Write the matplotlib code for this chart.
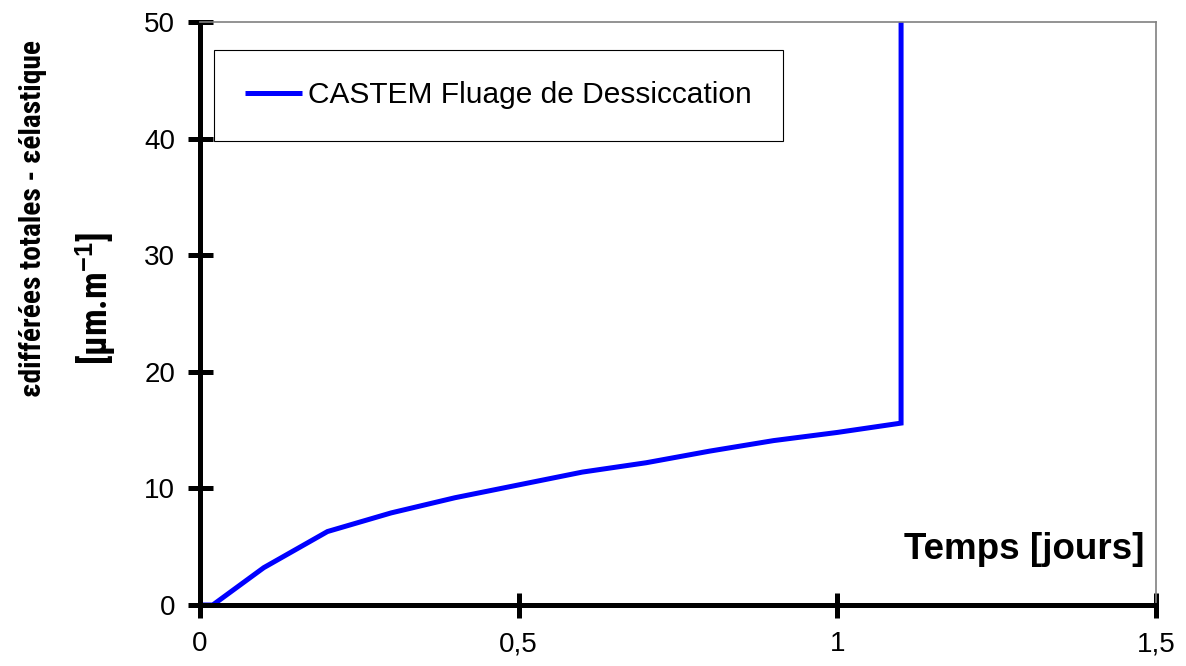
import numpy as np
import matplotlib
matplotlib.use("Agg")
import matplotlib.pyplot as plt
from matplotlib import font_manager
from matplotlib.ticker import FuncFormatter

plt.rcParams['font.family'] = ['Liberation Sans', 'DejaVu Sans']
plt.rcParams['mathtext.fontset'] = 'custom'
plt.rcParams['mathtext.rm'] = 'Liberation Sans'
plt.rcParams['mathtext.bf'] = 'Liberation Sans:bold'

# Données
temps = [0.0, 0.02, 0.1, 0.2, 0.3, 0.4, 0.5, 0.6, 0.7, 0.8, 0.9, 1.0, 1.1, 1.1]
deformation = [0.0, 0.0, 3.2, 6.3, 7.9, 9.2, 10.3, 11.4, 12.2, 13.2, 14.1, 14.8, 15.6, 80.0]
nom_serie = "CASTEM Fluage de Dessiccation"
x_ticks = [0, 0.5, 1, 1.5]
y_ticks = [0, 10, 20, 30, 40, 50]

# police étroite pour le titre de l'axe y si elle existe
noms = set(f.name for f in font_manager.fontManager.ttflist)
police_etroite = 'Liberation Sans'
for nom in ['Liberation Sans Narrow', 'DejaVu Sans Condensed', 'Roboto Condensed', 'Open Sans Condensed']:
    if nom in noms:
        police_etroite = nom
        break

fig = plt.figure(figsize=(11.86, 6.66), dpi=100)
ax = fig.add_axes([200 / 1186, 61 / 666, 956 / 1186, 583 / 666])

ax.plot(temps, deformation, color='#0000ff', lw=3.6, label=nom_serie,
        solid_joinstyle='miter', solid_capstyle='butt')

ax.set_xlim(0, 1.5)
ax.set_ylim(0, 50)
ax.set_xticks(x_ticks)
ax.set_yticks(y_ticks)
ax.xaxis.set_major_formatter(FuncFormatter(lambda v, p: ('%g' % v).replace('.', ',')))

for s in ['left', 'bottom']:
    ax.spines[s].set_linewidth(3.6)
    ax.spines[s].set_color('black')
for s in ['top', 'right']:
    ax.spines[s].set_linewidth(1.2)
    ax.spines[s].set_color('#808080')

ax.tick_params(direction='inout', length=18, width=3.6, labelsize=20, color='black')
ax.tick_params(axis='x', pad=10)
ax.tick_params(axis='y', pad=9)

ax.text(0.988, 0.096, 'Temps [jours]', transform=ax.transAxes, ha='right', va='center',
        fontsize=26.5, fontweight='bold')

lab1 = fig.text(33 / 1186, 1 - 218 / 666, u'εdifférées totales - εélastique', family=police_etroite,
                rotation=90, ha='center', va='center', fontsize=26, fontweight='bold')
lab2 = fig.text(96 / 1186, 1 - 299 / 666, u'[µm.m$^{\\mathbf{-1}}$]', family=police_etroite,
                rotation=90, ha='center', va='center', fontsize=26, fontweight='bold')

# ajuster la taille pour retrouver la longueur du titre de l'axe y
renderer = fig.canvas.get_renderer()
for lab, longueur in [(lab1, 357), (lab2, 133)]:
    h = lab.get_window_extent(renderer).height
    lab.set_fontsize(lab.get_fontsize() * longueur / h)

leg = ax.legend(loc='upper left', bbox_to_anchor=(14 / 956, 1 - 28 / 583), fontsize=21.5,
                fancybox=False, edgecolor='black', handlelength=1.9, borderpad=1.05,
                handletextpad=0.2, borderaxespad=0)
leg.get_frame().set_linewidth(0.8)
leg.get_frame().set_alpha(1)

fig.savefig('out.png', dpi=100)
